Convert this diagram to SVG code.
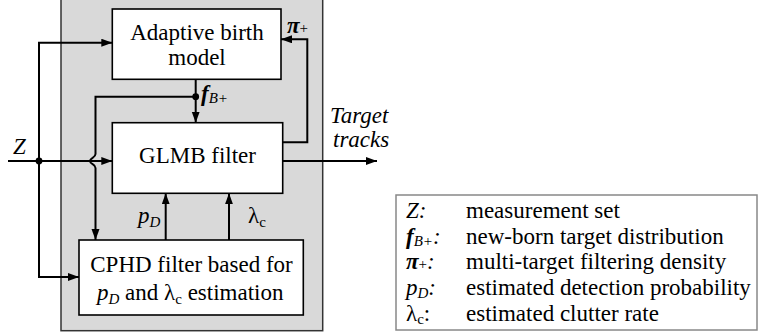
<svg xmlns="http://www.w3.org/2000/svg" width="760" height="335" viewBox="0 0 760 335">
<style>
text{font-family:"Times New Roman",Times,serif;font-size:23px;fill:#000}
.it{font-style:italic}
.bi{font-style:italic;font-weight:bold}
.sub{font-size:15px}
.box{fill:#fff;stroke:#000;stroke-width:1.6}
.ln{fill:none;stroke:#000;stroke-width:2}
.ar{marker-end:url(#ah)}
</style>
<defs>
<marker id="ah" markerUnits="userSpaceOnUse" markerWidth="12" markerHeight="9" refX="11" refY="4" orient="auto">
<path d="M0,0 L11,4 L0,8 z" fill="#000"/>
</marker>
</defs>
<rect id="panel" x="61" y="-2" width="261.7" height="332.7" fill="#d9d9d9" stroke="#333" stroke-width="1.5"/>
<g id="birth">
<rect class="box" x="112.3" y="9" width="168.7" height="70.3"/>
<text x="197" y="39.5" text-anchor="middle">Adaptive birth</text>
<text x="197" y="65" text-anchor="middle">model</text>
</g>
<g id="glmb">
<rect class="box" x="112.3" y="122.7" width="170.4" height="70.6"/>
<text x="197.5" y="163" text-anchor="middle">GLMB filter</text>
</g>
<g id="cphd">
<rect class="box" x="79" y="240" width="224.3" height="75"/>
<text x="191.5" y="271.5" text-anchor="middle">CPHD filter based for</text>
<text x="97" y="300"><tspan class="it">p</tspan><tspan class="it sub" dy="4">D</tspan><tspan dy="-4"> and λ</tspan><tspan class="sub" dy="4">c</tspan><tspan dy="-4"> estimation</tspan></text>
</g>
<g id="connectors">
<path class="ln ar" d="M8,161 H112.3"/>
<path class="ln ar" d="M39,161 V42.7 H112.3"/>
<path class="ln ar" d="M39,161 V277 H79"/>
<path class="ln ar" d="M195.7,79.3 V122.7"/>
<path class="ln ar" d="M195.7,96.7 H95.5 V154 C95.5,158 90,157.5 90,161 C90,164.5 95.5,164 95.5,168 V240"/>
<path class="ln ar" d="M282.7,142.3 H307.3 V39.3 H281"/>
<path class="ln ar" d="M282.7,161 H377"/>
<path class="ln ar" d="M165.7,240 V193.3"/>
<path class="ln ar" d="M229,240 V193.3"/>
<circle cx="39" cy="161" r="3.4" fill="#000"/>
<circle cx="195.7" cy="96.7" r="3.4" fill="#000"/>
</g>
<g id="labels">
<text class="it" x="13" y="154">Z</text>
<text x="201" y="101"><tspan class="bi">f</tspan><tspan class="it sub" dy="2">B+</tspan></text>
<text x="287" y="33"><tspan class="bi">π</tspan><tspan class="sub">+</tspan></text>
<text class="it" x="330" y="123">Target</text>
<text class="it" x="333" y="147">tracks</text>
<text x="138" y="223"><tspan class="it">p</tspan><tspan class="it sub" dy="4">D</tspan></text>
<text x="248" y="223">λ<tspan class="sub" dy="4">c</tspan></text>
</g>
<g id="legend">
<rect x="396" y="195" width="361" height="135" fill="#fff" stroke="#888" stroke-width="1.5"/>
<text x="406" y="218"><tspan class="it">Z:</tspan></text>
<text x="466" y="218">measurement set</text>
<text x="406" y="243.5"><tspan class="bi">f</tspan><tspan class="it sub" dy="2">B+</tspan><tspan class="it" dy="-2">:</tspan></text>
<text x="466" y="243.5">new-born target distribution</text>
<text x="406" y="269"><tspan class="bi">π</tspan><tspan class="sub">+</tspan><tspan class="it">:</tspan></text>
<text x="466" y="269">multi-target filtering density</text>
<text x="406" y="295"><tspan class="it">p</tspan><tspan class="it sub" dy="3">D</tspan><tspan class="it" dy="-3">:</tspan></text>
<text x="466" y="295">estimated detection probability</text>
<text x="406" y="321">λ<tspan class="sub" dy="3">c</tspan><tspan dy="-3">:</tspan></text>
<text x="466" y="321">estimated clutter rate</text>
</g>
</svg>
